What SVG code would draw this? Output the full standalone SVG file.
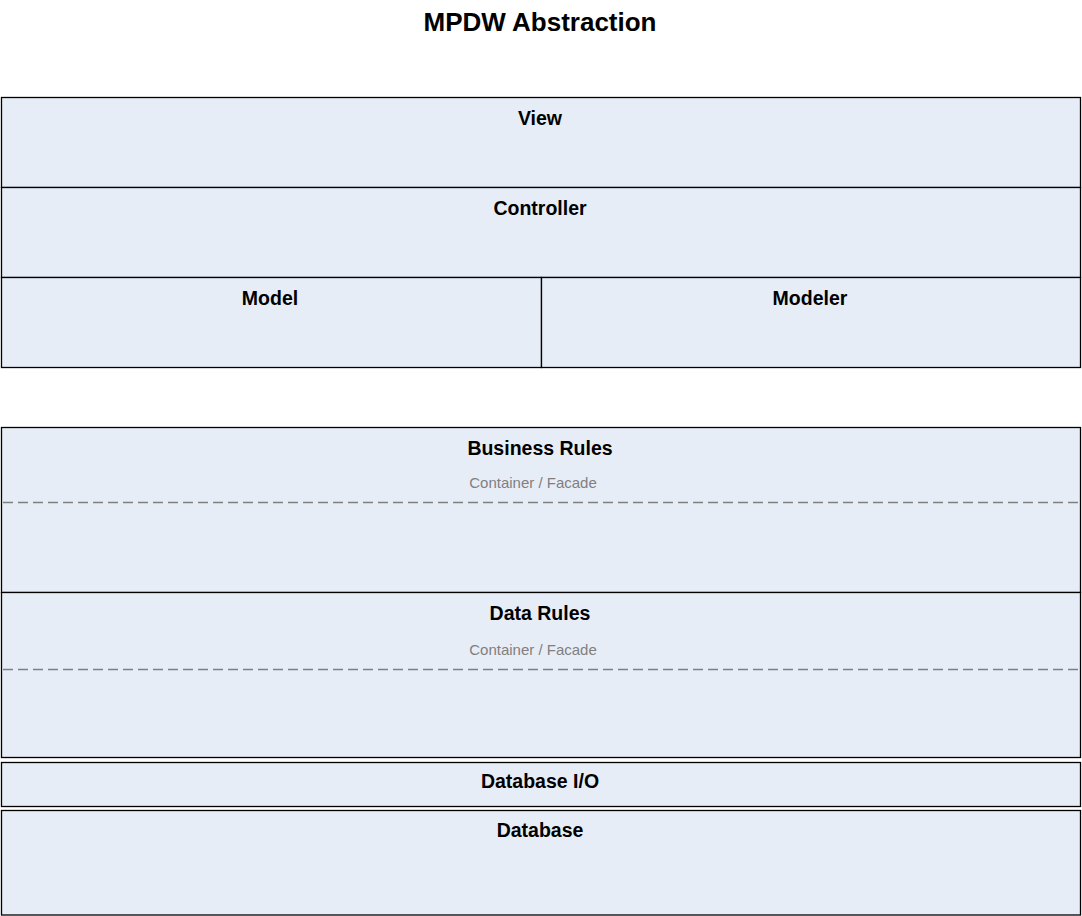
<svg xmlns="http://www.w3.org/2000/svg" width="1082" height="916" viewBox="0 0 1082 916">
<style>
.box{fill:#E7EDF7;stroke:#000;stroke-width:1.3}
.lbl{font-family:"Liberation Sans",Arial,sans-serif;font-weight:bold;font-size:19.5px;fill:#000;text-anchor:middle}
.sub{font-family:"Liberation Sans",Arial,sans-serif;font-size:15px;fill:#7F7F7F;text-anchor:middle}
.dash{stroke:#7F7F7F;stroke-width:1.3;stroke-dasharray:10 5;fill:none}
</style>
<rect width="1082" height="916" fill="#fff"/>
<text x="540" y="31" font-family="'Liberation Sans',Arial,sans-serif" font-weight="bold" font-size="26" text-anchor="middle">MPDW Abstraction</text>
<g id="view"><rect class="box" x="1.5" y="97.5" width="1079" height="90"/><text class="lbl" x="540" y="124.5">View</text></g>
<g id="controller"><rect class="box" x="1.5" y="187.5" width="1079" height="90"/><text class="lbl" x="540" y="214.5">Controller</text></g>
<g id="model"><rect class="box" x="1.5" y="277.5" width="540" height="90"/><text class="lbl" x="270" y="304.5">Model</text></g>
<g id="modeler"><rect class="box" x="541.5" y="277.5" width="539" height="90"/><text class="lbl" x="810" y="304.5">Modeler</text></g>
<g id="business-rules"><rect class="box" x="1.5" y="427.5" width="1079" height="165"/><text class="lbl" x="540" y="454.5">Business Rules</text><text class="sub" x="533" y="488">Container / Facade</text></g>
<g id="data-rules"><rect class="box" x="1.5" y="592.5" width="1079" height="165"/><text class="lbl" x="540" y="619.5">Data Rules</text><text class="sub" x="533" y="655">Container / Facade</text></g>
<g id="database-io"><rect class="box" x="1.5" y="762.5" width="1079" height="44"/><text class="lbl" x="540" y="787.5">Database I/O</text></g>
<g id="database"><rect class="box" x="1.5" y="810.5" width="1079" height="104.5"/><text class="lbl" x="540" y="836.5">Database</text></g>
<g id="connectors">
<line class="dash" x1="3" y1="502.5" x2="1080" y2="502.5"/>
<line class="dash" x1="3" y1="669.5" x2="1080" y2="669.5"/>
</g>
</svg>
